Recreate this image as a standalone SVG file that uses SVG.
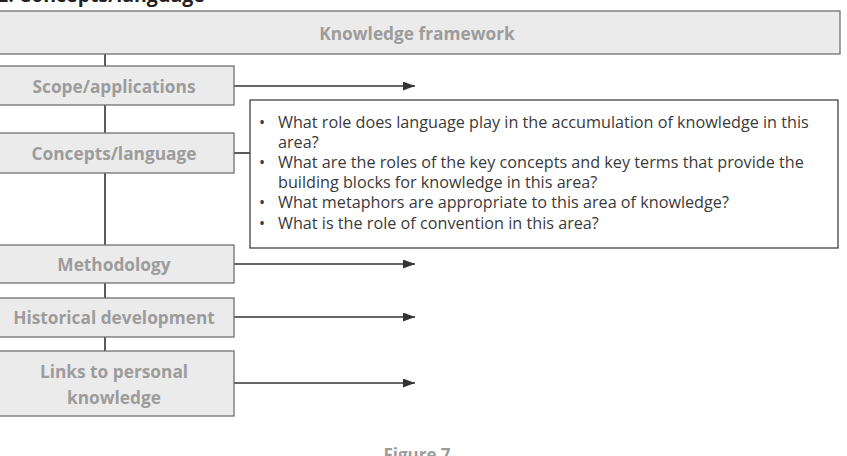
<svg xmlns="http://www.w3.org/2000/svg" width="847" height="456" viewBox="0 0 847 456">
<style>
.box{fill:#ebebeb;stroke:#707070;stroke-width:1.3}
.lbl{font-family:"Open Sans","Liberation Sans",sans-serif;font-weight:bold;font-size:17.3px;fill:#9c9c9c;text-anchor:middle}
.q{font-family:"Open Sans","Liberation Sans",sans-serif;font-size:16.2px;fill:#3a3a3a}
.ln{stroke:#333;stroke-width:1.6;fill:none}
</style>
<defs>
<marker id="ah2" viewBox="0 0 12 9" refX="12" refY="4.5" markerWidth="13" markerHeight="9" markerUnits="userSpaceOnUse" orient="auto">
<path d="M0,0 L12,4.5 L0,9 z" fill="#333"/>
</marker>
</defs>
<text x="-3" y="2" font-family="Open Sans, Liberation Sans, sans-serif" font-weight="bold" font-size="19.5" fill="#222">2. Concepts/language</text>
<text x="417" y="461" class="lbl" style="font-size:17px">Figure 7</text>
<g id="connectors">
<line class="ln" x1="105" y1="54" x2="105" y2="351"/>
<line class="ln" x1="234" y1="86" x2="415" y2="86" marker-end="url(#ah2)"/>
<line class="ln" x1="234" y1="153" x2="250" y2="153"/>
<line class="ln" x1="234" y1="264" x2="415" y2="264" marker-end="url(#ah2)"/>
<line class="ln" x1="234" y1="317" x2="415" y2="317" marker-end="url(#ah2)"/>
<line class="ln" x1="234" y1="383" x2="415" y2="383" marker-end="url(#ah2)"/>
</g>
<g id="framework">
<rect class="box" x="-2" y="11" width="842" height="43"/>
<text class="lbl" x="417" y="40">Knowledge framework</text>
</g>
<g id="scope">
<rect class="box" x="-2" y="66" width="236" height="39"/>
<text class="lbl" x="114" y="93">Scope/applications</text>
</g>
<g id="concepts">
<rect class="box" x="-2" y="133" width="236" height="40"/>
<text class="lbl" x="114" y="160">Concepts/language</text>
</g>
<g id="methodology">
<rect class="box" x="-2" y="245" width="236" height="38"/>
<text class="lbl" x="114" y="271">Methodology</text>
</g>
<g id="historical">
<rect class="box" x="-2" y="298" width="236" height="39"/>
<text class="lbl" x="114" y="324">Historical development</text>
</g>
<g id="links">
<rect class="box" x="-2" y="351" width="236" height="65"/>
<text class="lbl" x="114" y="378">Links to personal</text>
<text class="lbl" x="114" y="404">knowledge</text>
</g>
<g id="questions">
<rect x="250" y="100" width="588" height="148" fill="#fff" stroke="#333" stroke-width="1.2"/>
<text class="q" x="259" y="128">•</text>
<text class="q" x="278" y="128">What role does language play in the accumulation of knowledge in this</text>
<text class="q" x="278" y="148">area?</text>
<text class="q" x="259" y="168">•</text>
<text class="q" x="278" y="168">What are the roles of the key concepts and key terms that provide the</text>
<text class="q" x="278" y="188">building blocks for knowledge in this area?</text>
<text class="q" x="259" y="208">•</text>
<text class="q" x="278" y="208">What metaphors are appropriate to this area of knowledge?</text>
<text class="q" x="259" y="229">•</text>
<text class="q" x="278" y="229">What is the role of convention in this area?</text>
</g>
</svg>
